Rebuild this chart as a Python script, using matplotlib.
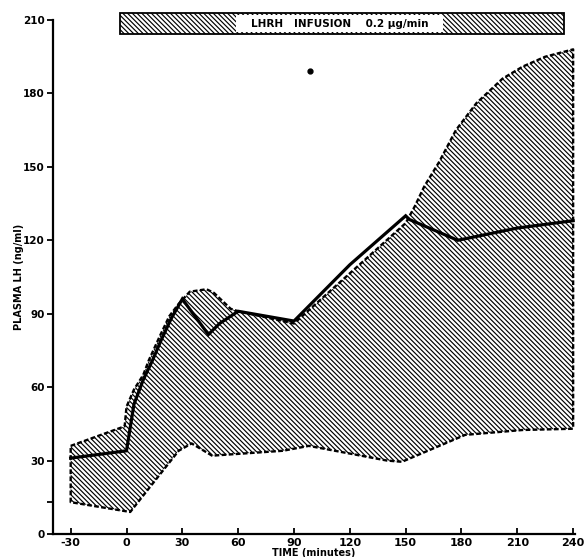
import matplotlib
matplotlib.use("Agg")
import matplotlib.pyplot as plt
from matplotlib.patches import Polygon, Rectangle

# ---- data ----
mean_t = [-30, 0, 4, 9, 14, 18.5, 24, 30, 44, 50, 60, 90, 120, 150, 152, 178, 210, 240]
mean_lh = [31, 34, 53, 63, 71, 79, 88, 96, 81.5, 86, 91, 87, 110, 130, 128.5, 120, 125, 128]

upper_t = [-30, -1, 0, 4, 9, 12, 18, 23, 28, 34, 43, 47, 56, 60, 90, 150, 155, 160, 168, 177, 188, 202, 213, 225, 240]
upper_lh = [36, 44, 52, 59, 65, 71, 81, 89, 94, 99, 100, 98.5, 92, 91, 86, 127, 134, 142, 152, 165, 176, 186, 191, 195, 198]

lower_t = [-30, 2, 28, 35, 46, 84, 98, 140, 148, 182, 213, 240]
lower_lh = [13, 9, 34, 37, 32, 34, 36, 30, 29.5, 40.5, 42.5, 43]

stray_t = [98.7]
stray_lh = [189]

xticks = [-30, 0, 30, 60, 90, 120, 150, 180, 210, 240]
yticks = [0, 30, 60, 90, 120, 150, 180, 210]
minor_yticks = [13]

banner_text = "LHRH   INFUSION    0.2 \u03bcg/min"
xlabel = "TIME (minutes)"
ylabel = "PLASMA LH (ng/ml)"

# ---- figure ----
plt.rcParams['font.family'] = ['DejaVu Sans']
plt.rcParams['hatch.linewidth'] = 0.85
fig = plt.figure(figsize=(5.85, 5.57), dpi=100)
ax = fig.add_axes([53/585, 23/557, 522/585, 514/557])
ax.set_xlim(-39.5, 241)
ax.set_ylim(0, 210)

HATCH = '\\' * 7

# shaded band polygon
poly_pts = list(zip(upper_t, upper_lh)) + list(zip(lower_t[::-1], lower_lh[::-1]))
band = Polygon(poly_pts, closed=True, facecolor='white', edgecolor='black',
               linewidth=0, hatch=HATCH, zorder=1)
ax.add_patch(band)
ox = [p[0] for p in poly_pts] + [poly_pts[0][0]]
oy = [p[1] for p in poly_pts] + [poly_pts[0][1]]
ax.plot(ox, oy, color='black', lw=1.7, ls=(0, (2.0, 1.0)), zorder=2,
        dash_capstyle='butt')

# mean line
ax.plot(mean_t, mean_lh, color='black', lw=2.3, zorder=3, solid_joinstyle='miter')
ax.plot(stray_t, stray_lh, 'o', color='black', ms=3.5, zorder=3)

# banner
bx0, bx1, by0, by1 = -3.5, 235, 204.2, 212.8
ax.add_patch(Rectangle((bx0, by0), bx1 - bx0, by1 - by0, facecolor='white',
                       edgecolor='black', hatch=HATCH, lw=1.3,
                       clip_on=False, zorder=4))
ax.add_patch(Rectangle((59, by0 + 0.7), 111, by1 - by0 - 1.4, facecolor='white',
                       edgecolor='none', lw=0, clip_on=False, zorder=5))
ax.text((59 + 170) / 2, (by0 + by1) / 2, banner_text, ha='center', va='center',
        fontsize=7.5, fontweight='bold', zorder=6, clip_on=False)

# axes styling
for s in ['top', 'right']:
    ax.spines[s].set_visible(False)
ax.spines['left'].set_linewidth(1.6)
ax.spines['bottom'].set_linewidth(1.6)
ax.spines['left'].set_bounds(0, 210)
ax.set_xticks(xticks)
ax.set_yticks(yticks)
ax.set_yticks(minor_yticks, minor=True)
ax.set_xticklabels([str(t) for t in xticks], fontsize=8, fontweight='bold')
ax.set_yticklabels([str(t) for t in yticks], fontsize=7.5, fontweight='bold')
ax.tick_params(axis='x', direction='in', length=4, width=1.3, pad=3)
ax.tick_params(axis='y', which='major', direction='out', length=4, width=1.3, pad=2)
ax.tick_params(axis='y', which='minor', direction='out', length=4, width=1.3)
ax.set_xlabel(xlabel, fontsize=7, fontweight='bold', labelpad=0)
ax.set_ylabel(ylabel, fontsize=7, fontweight='bold', labelpad=-1)

fig.savefig("out.png", dpi=100)
